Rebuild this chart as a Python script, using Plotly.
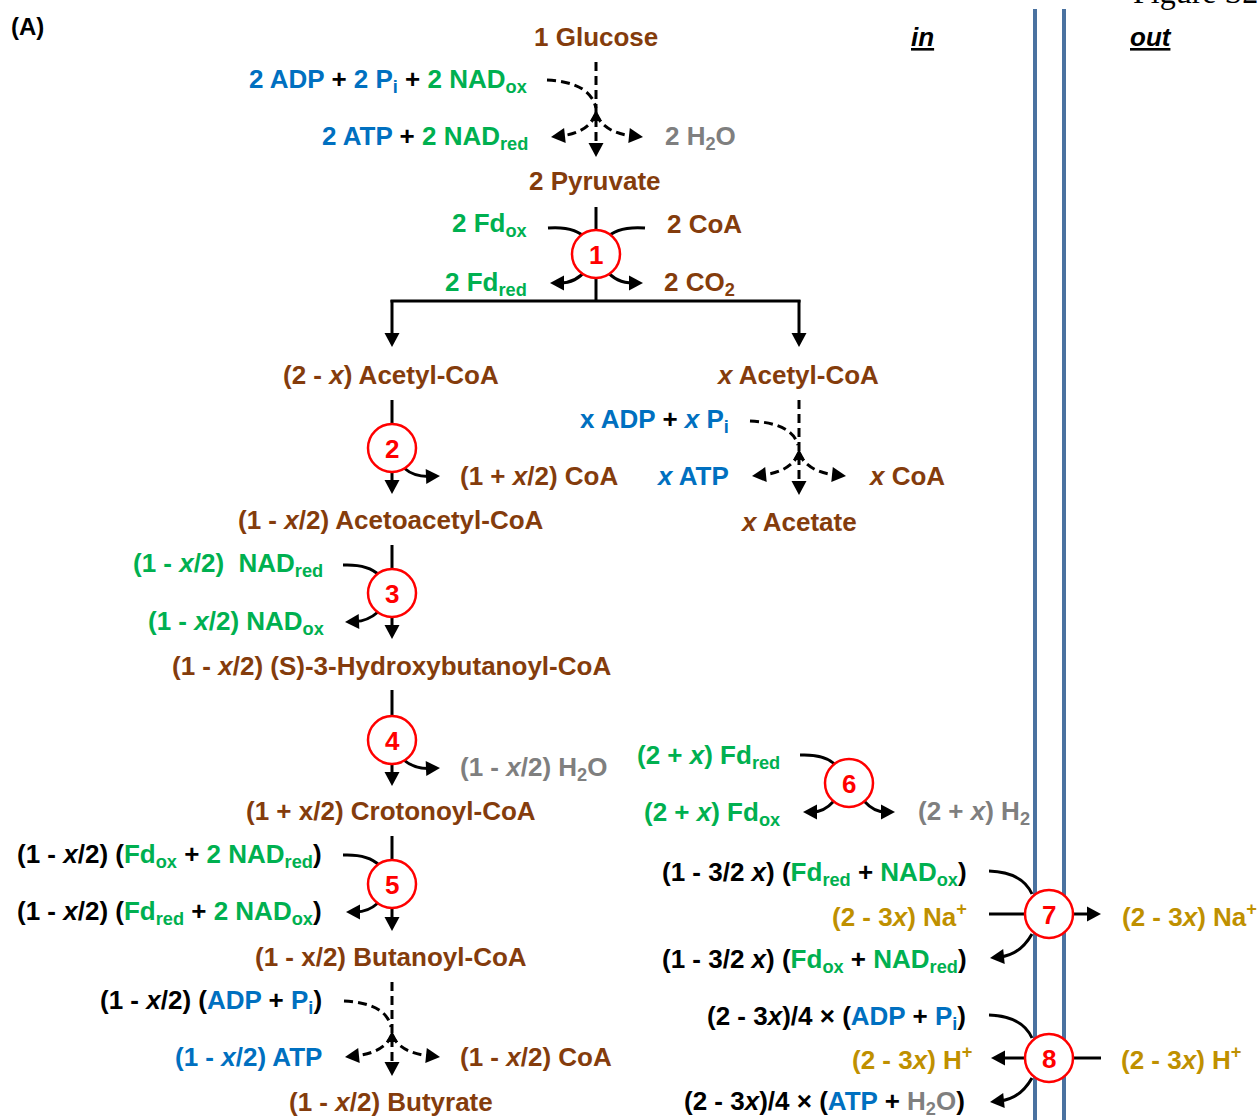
import math
import plotly.graph_objects as go

W, H = 1260, 1120
FONT = "Liberation Sans, Arial, sans-serif"
FS = 26

BROWN = "#843C0C"
BLUE = "#0070C0"
GREEN = "#00B050"
GREY = "#7F7F7F"
GOLD = "#BF9000"
RED = "#FF0000"
BLK = "#000000"
MEMB = "#4A72A0"


def c(t, col):
    return f'<span style="color:{col}">{t}</span>'


X = "<i>x</i>"

# ---------------- data: labels ----------------
# metabolites (brown, centred)
metabolite_labels = [
    "1 Glucose", "2 Pyruvate", f"(2 - {X}) Acetyl-CoA", f"{X} Acetyl-CoA",
    f"(1 - {X}/2) Acetoacetyl-CoA", f"{X} Acetate",
    f"(1 - {X}/2) (S)-3-Hydroxybutanoyl-CoA", "(1 + x/2) Crotonoyl-CoA",
    "(1 - x/2) Butanoyl-CoA", f"(1 - {X}/2) Butyrate",
]
metabolite_x = [596, 595, 391, 797, 391, 798, 391, 391, 391, 391]
metabolite_y = [37, 181, 375, 375, 520, 522, 666, 811, 957, 1102]

# co-substrates written to the left of an arrow (right aligned)
left_labels = [
    c("2 ADP", BLUE) + " + " + c("2 P<sub>i</sub>", BLUE) + " + " + c("2 NAD<sub>ox</sub>", GREEN),
    c("2 ATP", BLUE) + " + " + c("2 NAD<sub>red</sub>", GREEN),
    c("2 Fd<sub>ox</sub>", GREEN),
    c("2 Fd<sub>red</sub>", GREEN),
    c("x ADP", BLUE) + " + " + c(f"{X} P<sub>i</sub>", BLUE),
    c(f"{X} ATP", BLUE),
    c(f"(1 - {X}/2)&nbsp; NAD<sub>red</sub>", GREEN),
    c(f"(1 - {X}/2) NAD<sub>ox</sub>", GREEN),
    f"(1 - {X}/2) (" + c("Fd<sub>ox</sub>", GREEN) + " + " + c("2 NAD<sub>red</sub>", GREEN) + ")",
    f"(1 - {X}/2) (" + c("Fd<sub>red</sub>", GREEN) + " + " + c("2 NAD<sub>ox</sub>", GREEN) + ")",
    f"(1 - {X}/2) (" + c("ADP", BLUE) + " + " + c("P<sub>i</sub>", BLUE) + ")",
    c(f"(1 - {X}/2) ATP", BLUE),
    c(f"(2 + {X}) Fd<sub>red</sub>", GREEN),
    c(f"(2 + {X}) Fd<sub>ox</sub>", GREEN),
    f"(1 - 3/2 {X}) (" + c("Fd<sub>red</sub>", GREEN) + " + " + c("NAD<sub>ox</sub>", GREEN) + ")",
    c(f"(2 - 3{X}) Na<sup>+</sup>", GOLD),
    f"(1 - 3/2 {X}) (" + c("Fd<sub>ox</sub>", GREEN) + " + " + c("NAD<sub>red</sub>", GREEN) + ")",
    f"(2 - 3{X})/4 × (" + c("ADP", BLUE) + " + " + c("P<sub>i</sub>", BLUE) + ")",
    c(f"(2 - 3{X}) H<sup>+</sup>", GOLD),
    f"(2 - 3{X})/4 × (" + c("ATP", BLUE) + " + " + c("H<sub>2</sub>O", GREY) + ")",
]
left_x = [529, 530, 529, 529, 731, 731, 325, 326, 324, 324, 324, 324,
          782, 782, 969, 969, 969, 968, 974, 967]
left_y = [80, 137, 224, 283, 420, 476, 564, 622, 855, 912, 1001, 1057,
          756, 813, 873, 915, 960, 1017, 1058, 1102]

# products written to the right of an arrow (left aligned)
right_labels = [
    c("2 H<sub>2</sub>O", GREY),
    c("2 CoA", BROWN),
    c("2 CO<sub>2</sub>", BROWN),
    c(f"(1 + {X}/2) CoA", BROWN),
    c(f"{X} CoA", BROWN),
    c(f"(1 - {X}/2) H<sub>2</sub>O", GREY),
    c(f"(1 - {X}/2) CoA", BROWN),
    c(f"(2 + {X}) H<sub>2</sub>", GREY),
    c(f"(2 - 3{X}) Na<sup>+</sup>", GOLD),
    c(f"(2 - 3{X}) H<sup>+</sup>", GOLD),
]
right_x = [663, 665, 662, 458, 866, 458, 458, 916, 1120, 1119]
right_y = [137, 224, 283, 476, 476, 768, 1057, 812, 915, 1058]

# enzyme steps
step_numbers = ["1", "2", "3", "4", "5", "6", "7", "8"]
step_cx = [596, 392, 392, 392, 392, 849, 1049, 1049]
step_cy = [254, 448, 593, 740, 884, 783, 914, 1058]
R = 24

# ---------------- drawing helpers ----------------
shapes = []
L_HEAD = 14
HW = 7.5


def unit(dx, dy):
    n = math.hypot(dx, dy)
    return dx / n, dy / n


def seg(x0, y0, x1, y1, dash=None, w=3, color=BLK):
    shapes.append(dict(type="line", x0=x0, y0=y0, x1=x1, y1=y1, xref="x", yref="y",
                       line=dict(color=color, width=w, dash=dash)))


def head(tx, ty, dx, dy, L=L_HEAD, hw=HW):
    dx, dy = unit(dx, dy)
    bx, by = tx - L * dx, ty - L * dy
    px, py = -dy, dx
    path = (f"M{tx:.1f},{ty:.1f} L{bx + hw * px:.1f},{by + hw * py:.1f} "
            f"L{bx - hw * px:.1f},{by - hw * py:.1f} Z")
    shapes.append(dict(type="path", path=path, xref="x", yref="y",
                       fillcolor=BLK, line=dict(width=0, color=BLK)))


def arrow(x0, y0, x1, y1, dash=None):
    dx, dy = unit(x1 - x0, y1 - y0)
    seg(x0, y0, x1 - dx * L_HEAD * 0.7, y1 - dy * L_HEAD * 0.7, dash)
    head(x1, y1, dx, dy)


def curve(x0, y0, cx, cy, x1, y1, dash=None, tip=False):
    ex, ey = x1, y1
    if tip:
        dx, dy = unit(x1 - cx, y1 - cy)
        ex, ey = x1 - dx * L_HEAD * 0.7, y1 - dy * L_HEAD * 0.7
        head(x1, y1, dx, dy)
    shapes.append(dict(type="path", path=f"M{x0},{y0} Q{cx},{cy} {ex:.1f},{ey:.1f}",
                       xref="x", yref="y", line=dict(color=BLK, width=3, dash=dash)))


DASH = "9px,5px"

# membrane
seg(1035, 9, 1035, H, w=4, color=MEMB)
seg(1064, 9, 1064, H, w=4, color=MEMB)

# glycolysis (dashed)
arrow(596, 62, 596, 157, DASH)
curve(547, 80, 590, 82, 596, 108, DASH)
head(596, 110, 0, -1, L=11, hw=6)
curve(596, 114, 588, 133, 551, 137, DASH, tip=True)
curve(596, 114, 604, 133, 643, 137, DASH, tip=True)

# step 1
seg(596, 207, 596, 232)
seg(596, 276, 596, 301)
curve(548, 228, 576, 226, 586, 239)
curve(645, 228, 616, 226, 606, 239)
curve(586, 270, 576, 283, 550, 283, tip=True)
curve(606, 270, 616, 283, 643, 283, tip=True)
seg(390.5, 301, 800.5, 301)
arrow(392, 300, 392, 347)
arrow(799, 300, 799, 347)

# step 2
seg(392, 400, 392, 426)
arrow(392, 470, 392, 494)
curve(404, 468, 414, 477, 440, 476, tip=True)

# acetate branch (dashed)
arrow(799, 400, 799, 495, DASH)
curve(750, 421, 792, 423, 798, 445, DASH)
head(799, 449, 0, -1, L=11, hw=6)
curve(799, 453, 791, 472, 752, 476, DASH, tip=True)
curve(799, 453, 807, 472, 846, 476, DASH, tip=True)

# step 3
seg(392, 545, 392, 571)
arrow(392, 615, 392, 639)
curve(343, 565, 368, 564, 379, 575)
curve(378, 612, 368, 621, 345, 622, tip=True)

# step 4
seg(392, 690, 392, 718)
arrow(392, 762, 392, 786)
curve(404, 760, 414, 769, 440, 768, tip=True)

# step 5
seg(392, 836, 392, 862)
arrow(392, 906, 392, 931)
curve(343, 855, 368, 854, 379, 865)
curve(378, 903, 368, 912, 346, 912, tip=True)

# butyrate kinase branch (dashed)
arrow(392, 982, 392, 1076, DASH)
curve(344, 1001, 386, 1003, 391, 1027, DASH)
head(392, 1031, 0, -1, L=11, hw=6)
curve(392, 1035, 384, 1053, 345, 1057, DASH, tip=True)
curve(392, 1035, 400, 1053, 440, 1057, DASH, tip=True)

# step 6 (hydrogenase)
curve(800, 755, 826, 754, 835, 765)
curve(834, 801, 824, 812, 803, 812, tip=True)
curve(864, 801, 874, 812, 895, 812, tip=True)

# step 7 (Rnf)
curve(989, 871, 1022, 872, 1032, 894)
seg(989, 914, 1026, 914)
arrow(1072, 914, 1101, 914)
curve(1032, 934, 1020, 955, 990, 958, tip=True)

# step 8 (ATP synthase)
curve(989, 1015, 1022, 1016, 1032, 1038)
arrow(1026, 1058, 991, 1058)
seg(1072, 1058, 1101, 1058)
curve(1032, 1078, 1020, 1099, 990, 1102, tip=True)

# enzyme circles
for cx, cy in zip(step_cx, step_cy):
    shapes.append(dict(type="circle", xref="x", yref="y", x0=cx - R, x1=cx + R,
                       y0=cy - R, y1=cy + R, fillcolor="white",
                       line=dict(color=RED, width=2.5)))

# ---------------- annotations ----------------
ann = []


def label(text, x, y, anchor, color=BLK, size=FS, family=FONT, bold=True):
    t = f"<b>{text}</b>" if bold else text
    ann.append(dict(x=x, y=y, xref="x", yref="y", text=t, showarrow=False,
                    xanchor=anchor, yanchor="middle",
                    font=dict(family=family, size=size, color=color)))


for t, x, y in zip(metabolite_labels, metabolite_x, metabolite_y):
    label(t, x, y, "center", BROWN)
for t, x, y in zip(left_labels, left_x, left_y):
    label(t, x, y, "right")
for t, x, y in zip(right_labels, right_x, right_y):
    label(t, x, y, "left")
for t, x, y in zip(step_numbers, step_cx, step_cy):
    label(t, x, y + 1, "center", RED)

label("(A)", 9, 26, "left", size=24)
label("<i><u>in</u></i>", 922, 37, "center")
label("<i><u>out</u></i>", 1151, 37, "center")
ann.append(dict(x=1131, y=12, xref="x", yref="y", text="Figure S2", showarrow=False,
                xanchor="left", yanchor="bottom",
                font=dict(family="Liberation Serif, Times New Roman, serif", size=32, color=BLK)))

fig = go.Figure()
fig.add_trace(go.Scatter(x=[0], y=[0], mode="markers", marker=dict(opacity=0),
                         hoverinfo="skip", showlegend=False))
fig.update_layout(
    width=W, height=H,
    margin=dict(l=0, r=0, t=0, b=0),
    paper_bgcolor="white", plot_bgcolor="white",
    xaxis=dict(range=[0, W], visible=False, fixedrange=True),
    yaxis=dict(range=[H, 0], visible=False, fixedrange=True),
    shapes=shapes, annotations=ann, showlegend=False,
)
fig.write_html("out.html", config={"displayModeBar": False},
               post_script="document.body.style.margin='0';")
